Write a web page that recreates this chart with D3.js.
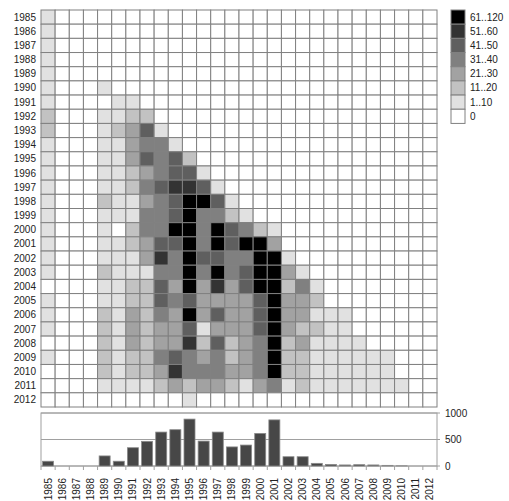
<!doctype html>
<html lang="en">
  <head>
    <meta charset="utf-8">
    <title>matrix</title>
    <style>
      body { margin: 0; background: #fff; }
      text { font: 10px "Liberation Sans", Arial, sans-serif; fill: #222; }
      .cell { stroke: #808080; stroke-width: 1; }
      .bar { fill: #474747; stroke: #8a8a8a; stroke-width: 0.8; }
    </style>
  </head>
  <body>
    <div class="chart"></div>
  <script src="https://d3js.org/d3.v7.min.js"></script>
  <script>
    const years = d3.range(1985, 2013);

    // estimated counts per row (row year), one value per column year 1985..2012
    const row1985 = [5,0,0,0,0,0,0,0,0,0,0,0,0,0,0,0,0,0,0,0,0,0,0,0,0,0,0,0];
    const row1986 = [5,0,0,0,0,0,0,0,0,0,0,0,0,0,0,0,0,0,0,0,0,0,0,0,0,0,0,0];
    const row1987 = [5,0,0,0,0,0,0,0,0,0,0,0,0,0,0,0,0,0,0,0,0,0,0,0,0,0,0,0];
    const row1988 = [5,0,0,0,0,0,0,0,0,0,0,0,0,0,0,0,0,0,0,0,0,0,0,0,0,0,0,0];
    const row1989 = [5,0,0,0,0,0,0,0,0,0,0,0,0,0,0,0,0,0,0,0,0,0,0,0,0,0,0,0];
    const row1990 = [5,0,0,0,5,0,0,0,0,0,0,0,0,0,0,0,0,0,0,0,0,0,0,0,0,0,0,0];
    const row1991 = [5,0,0,0,0,5,5,0,0,0,0,0,0,0,0,0,0,0,0,0,0,0,0,0,0,0,0,0];
    const row1992 = [15,0,0,0,5,5,15,15,0,0,0,0,0,0,0,0,0,0,0,0,0,0,0,0,0,0,0,0];
    const row1993 = [15,0,0,0,5,15,25,45,5,0,0,0,0,0,0,0,0,0,0,0,0,0,0,0,0,0,0,0];
    const row1994 = [5,0,0,0,5,5,25,35,35,5,0,0,0,0,0,0,0,0,0,0,0,0,0,0,0,0,0,0];
    const row1995 = [5,0,0,0,5,5,25,45,35,45,15,0,0,0,0,0,0,0,0,0,0,0,0,0,0,0,0,0];
    const row1996 = [5,0,0,0,5,5,15,25,35,45,45,5,0,0,0,0,0,0,0,0,0,0,0,0,0,0,0,0];
    const row1997 = [5,0,0,0,5,5,15,35,45,55,55,45,5,0,0,0,0,0,0,0,0,0,0,0,0,0,0,0];
    const row1998 = [5,0,0,0,15,5,5,25,35,45,80,80,45,5,0,0,0,0,0,0,0,0,0,0,0,0,0,0];
    const row1999 = [5,0,0,0,5,5,5,35,35,45,80,35,35,15,5,0,0,0,0,0,0,0,0,0,0,0,0,0];
    const row2000 = [5,0,0,0,5,0,15,35,35,80,80,35,80,45,35,15,5,0,0,0,0,0,0,0,0,0,0,0];
    const row2001 = [5,0,0,0,5,5,15,25,45,45,80,35,80,45,80,80,25,0,0,0,0,0,0,0,0,0,0,0];
    const row2002 = [5,0,0,0,5,5,5,25,55,35,80,45,45,35,35,80,80,5,0,0,0,0,0,0,0,0,0,0];
    const row2003 = [5,0,0,0,15,5,5,5,35,35,80,35,80,35,45,80,80,25,5,0,0,0,0,0,0,0,0,0];
    const row2004 = [0,0,0,0,5,5,15,15,45,25,80,25,55,25,45,80,80,15,35,5,0,0,0,0,0,0,0,0];
    const row2005 = [5,0,0,0,5,5,15,15,45,35,45,25,25,25,25,45,80,25,25,15,0,0,0,0,0,0,0,0];
    const row2006 = [5,0,0,0,15,5,25,15,35,25,80,25,45,25,25,45,80,25,25,5,5,5,0,0,0,0,0,0];
    const row2007 = [5,0,0,0,15,5,25,15,25,25,45,5,25,25,25,45,80,25,15,15,5,5,0,0,0,0,0,0];
    const row2008 = [0,0,0,0,15,5,25,15,25,25,55,15,45,15,25,35,80,15,25,5,5,5,5,0,0,0,0,0];
    const row2009 = [5,0,0,0,15,5,15,15,35,45,35,25,35,15,25,35,80,15,15,5,5,5,5,5,5,0,0,0];
    const row2010 = [0,0,0,0,15,5,15,15,25,55,35,35,35,25,25,35,80,15,15,5,5,5,5,5,5,0,0,0];
    const row2011 = [0,0,0,0,5,5,5,5,15,25,15,25,25,15,5,25,35,5,15,5,5,5,5,5,5,5,0,0];
    const row2012 = [0,0,0,0,0,0,0,0,0,0,5,0,0,0,0,0,0,0,0,0,0,0,0,0,0,0,0,0];

    const rows = [row1985, row1986, row1987, row1988, row1989, row1990, row1991,
      row1992, row1993, row1994, row1995, row1996, row1997, row1998, row1999,
      row2000, row2001, row2002, row2003, row2004, row2005, row2006, row2007,
      row2008, row2009, row2010, row2011, row2012];

    // column totals shown in the bar chart
    const totals = [90,0,0,0,190,90,345,465,640,685,885,470,640,360,395,615,870,175,175,50,30,20,25,20,12,2,0,0];

    const legendLabels = ['61..120', '51..60', '41..50', '31..40', '21..30', '11..20', '1..10', '0'];
    const binEdges = [1, 11, 21, 31, 41, 51, 61];
    const binColors = ['#ffffff', '#e1e1e1', '#c2c2c2', '#a2a2a2', '#808080', '#5f5f5f', '#333333', '#000000'];
    const barTicks = [0, 500, 1000];

    const width = 509;
    const height = 501;
    const grid = {left: 41, right: 437, top: 10, bottom: 407};
    const panel = {top: 413, bottom: 466};

    const color = d3.scaleThreshold().domain(binEdges).range(binColors);

    const xScale = d3.scaleBand().domain(years).range([grid.left, grid.right]);
    const yScale = d3.scaleBand().domain(years).range([grid.top, grid.bottom]);
    const yBar = d3.scaleLinear().domain([0, 1000]).range([panel.bottom, panel.top]);

    const svg = d3.select('.chart').append('svg')
        .attr('width', width)
        .attr('height', height);

    // matrix
    const cells = [];
    rows.forEach((r, i) => {
      r.forEach((v, j) => cells.push({row: years[i], col: years[j], value: v}));
    });

    svg.append('g')
      .selectAll('rect')
      .data(cells)
      .join('rect')
        .attr('class', 'cell')
        .attr('x', d => xScale(d.col))
        .attr('y', d => yScale(d.row))
        .attr('width', xScale.bandwidth())
        .attr('height', yScale.bandwidth())
        .attr('fill', d => color(d.value));

    svg.append('g')
      .selectAll('text')
      .data(years)
      .join('text')
        .attr('x', grid.left - 5)
        .attr('y', d => yScale(d) + yScale.bandwidth() / 2)
        .attr('dy', '0.35em')
        .attr('text-anchor', 'end')
        .text(d => d);

    // legend
    const legendX = 451;
    const legendColors = binColors.slice().reverse();
    const legend = svg.append('g')
      .selectAll('g')
      .data(legendLabels)
      .join('g')
        .attr('transform', (d, i) => `translate(${legendX},${grid.top + i * yScale.bandwidth()})`);

    legend.append('rect')
        .attr('width', 14)
        .attr('height', yScale.bandwidth())
        .attr('fill', (d, i) => legendColors[i])
        .attr('stroke', '#808080');

    legend.append('text')
        .attr('x', 19)
        .attr('y', yScale.bandwidth() / 2)
        .attr('dy', '0.35em')
        .text(d => d);

    // bar chart panel
    const bars = svg.append('g');

    bars.append('rect')
        .attr('x', grid.left)
        .attr('y', panel.top)
        .attr('width', grid.right - grid.left)
        .attr('height', panel.bottom - panel.top)
        .attr('fill', 'none')
        .attr('stroke', '#a0a0a0');

    bars.selectAll('.grid-line')
      .data(barTicks)
      .join('line')
        .attr('class', 'grid-line')
        .attr('x1', grid.left)
        .attr('x2', grid.right + 3)
        .attr('y1', d => yBar(d))
        .attr('y2', d => yBar(d))
        .attr('stroke', '#a0a0a0');

    bars.selectAll('.tick-label')
      .data(barTicks)
      .join('text')
        .attr('class', 'tick-label')
        .attr('x', grid.right + 8)
        .attr('y', d => yBar(d))
        .attr('dy', '0.35em')
        .text(d => d);

    const pad = (xScale.bandwidth() - 11) / 2;
    bars.selectAll('.bar')
      .data(totals.map((v, i) => ({year: years[i], value: v})))
      .join('rect')
        .attr('class', 'bar')
        .attr('x', d => xScale(d.year) + pad)
        .attr('y', d => yBar(d.value))
        .attr('width', xScale.bandwidth() - 2 * pad)
        .attr('height', d => panel.bottom - yBar(d.value));

    // ticks at band edges below the baseline
    bars.selectAll('.xtick')
      .data(years.concat([2013]))
      .join('line')
        .attr('class', 'xtick')
        .attr('x1', (d, i) => grid.left + i * xScale.bandwidth())
        .attr('x2', (d, i) => grid.left + i * xScale.bandwidth())
        .attr('y1', panel.bottom)
        .attr('y2', panel.bottom + 4)
        .attr('stroke', '#a0a0a0');

    bars.selectAll('.xlabel')
      .data(years)
      .join('text')
        .attr('class', 'xlabel')
        .attr('transform', d => `translate(${xScale(d) + xScale.bandwidth() / 2},${panel.bottom + 12}) rotate(-90)`)
        .attr('dy', '0.35em')
        .attr('text-anchor', 'end')
        .text(d => d);
  </script>
  </body>
</html>
